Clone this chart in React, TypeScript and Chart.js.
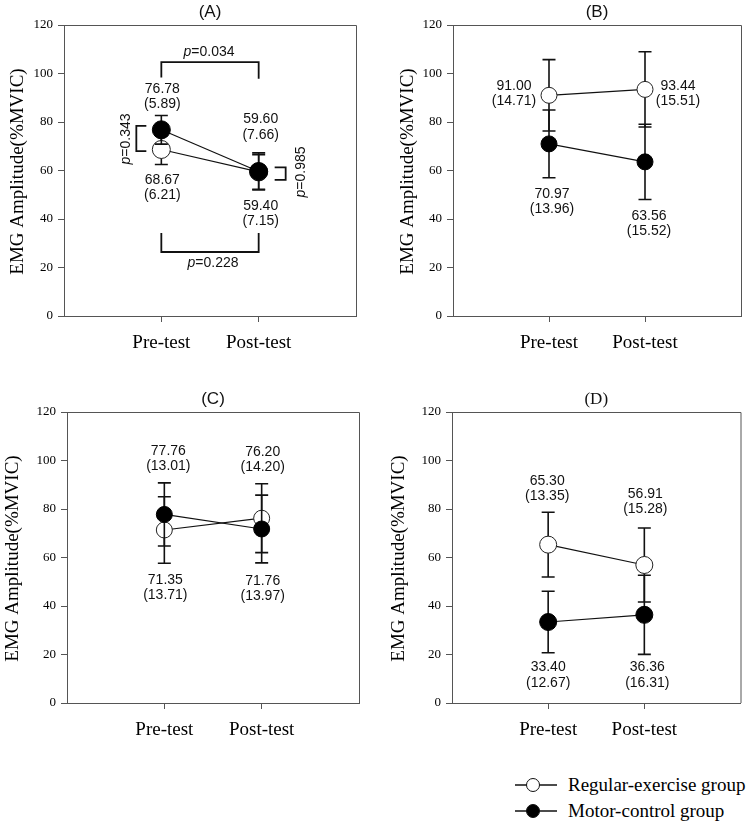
import React, { useEffect, useRef } from "react";
import { Chart, registerables } from "chart.js";

Chart.register(...registerables);

// ---------- data ----------
const categories = ["Pre-test", "Post-test"];
const yTickValues = [0, 20, 40, 60, 80, 100, 120];
const seriesNames = ["Regular-exercise group", "Motor-control group"];

const regularA = [68.67, 59.4];
const regularA_SD = [6.21, 7.15];
const motorA = [76.78, 59.6];
const motorA_SD = [5.89, 7.66];

const regularB = [91.0, 93.44];
const regularB_SD = [14.71, 15.51];
const motorB = [70.97, 63.56];
const motorB_SD = [13.96, 15.52];

const regularC = [71.35, 76.2];
const regularC_SD = [13.71, 14.2];
const motorC = [77.76, 71.76];
const motorC_SD = [13.01, 13.97];

const regularD = [65.3, 56.91];
const regularD_SD = [13.35, 15.28];
const motorD = [33.4, 36.36];
const motorD_SD = [12.67, 16.31];

const pValuesA = ["0.034", "0.228", "0.343", "0.985"]; // pre vs post (motor), pre vs post (regular), groups at pre, groups at post

// ---------- fonts ----------
const SERIF = "'Liberation Serif', 'Times New Roman', serif";
const SANS = "'Liberation Sans', Arial, sans-serif";

type LabelPos = { series: "r" | "m"; idx: number; dx: number; y: number };

type PanelCfg = {
  key: string;
  title: string;
  titleSerif: boolean;
  canvasX: number;
  canvasY: number;
  canvasW: number;
  canvasH: number;
  plotLeft: number;
  plotRight: number;
  plotTop: number;
  plotBottom: number;
  yTitleX: number;
  radius: number;
  regular: number[];
  regularSD: number[];
  motor: number[];
  motorSD: number[];
  labels: LabelPos[];
  pBrackets?: boolean;
};

const panels: PanelCfg[] = [
  {
    key: "A",
    title: "(A)",
    titleSerif: false,
    canvasX: 0,
    canvasY: 0,
    canvasW: 375,
    canvasH: 360,
    plotLeft: 64,
    plotRight: 356,
    plotTop: 25,
    plotBottom: 316,
    yTitleX: 18,
    radius: 9,
    regular: regularA,
    regularSD: regularA_SD,
    motor: motorA,
    motorSD: motorA_SD,
    labels: [
      { series: "m", idx: 0, dx: 1, y: 93.6 },
      { series: "r", idx: 0, dx: 1, y: 56.1 },
      { series: "m", idx: 1, dx: 2, y: 81.0 },
      { series: "r", idx: 1, dx: 2, y: 45.4 },
    ],
    pBrackets: true,
  },
  {
    key: "B",
    title: "(B)",
    titleSerif: false,
    canvasX: 375,
    canvasY: 0,
    canvasW: 375,
    canvasH: 360,
    plotLeft: 78,
    plotRight: 370,
    plotTop: 25,
    plotBottom: 316,
    yTitleX: 33,
    radius: 8,
    regular: regularB,
    regularSD: regularB_SD,
    motor: motorB,
    motorSD: motorB_SD,
    labels: [
      { series: "r", idx: 0, dx: -35, y: 94.8 },
      { series: "r", idx: 1, dx: 33, y: 94.8 },
      { series: "m", idx: 0, dx: 3, y: 50.3 },
      { series: "m", idx: 1, dx: 4, y: 41.2 },
    ],
  },
  {
    key: "C",
    title: "(C)",
    titleSerif: false,
    canvasX: 0,
    canvasY: 360,
    canvasW: 375,
    canvasH: 400,
    plotLeft: 67,
    plotRight: 359,
    plotTop: 52,
    plotBottom: 343,
    yTitleX: 13,
    radius: 8,
    regular: regularC,
    regularSD: regularC_SD,
    motor: motorC,
    motorSD: motorC_SD,
    labels: [
      { series: "m", idx: 0, dx: 4, y: 103.9 },
      { series: "r", idx: 1, dx: 1, y: 103.5 },
      { series: "r", idx: 0, dx: 1, y: 50.7 },
      { series: "m", idx: 1, dx: 1, y: 50.3 },
    ],
  },
  {
    key: "D",
    title: "(D)",
    titleSerif: true,
    canvasX: 375,
    canvasY: 360,
    canvasW: 375,
    canvasH: 400,
    plotLeft: 77,
    plotRight: 370,
    plotTop: 52,
    plotBottom: 343,
    yTitleX: 24,
    radius: 8.5,
    regular: regularD,
    regularSD: regularD_SD,
    motor: motorD,
    motorSD: motorD_SD,
    labels: [
      { series: "r", idx: 0, dx: -1, y: 91.5 },
      { series: "r", idx: 1, dx: 1, y: 86.2 },
      { series: "m", idx: 0, dx: 0, y: 14.6 },
      { series: "m", idx: 1, dx: 3, y: 14.6 },
    ],
  },
];

function drawPText(
  ctx: CanvasRenderingContext2D,
  x: number,
  y: number,
  value: string,
  rotate: boolean
) {
  ctx.save();
  ctx.translate(x, y);
  if (rotate) ctx.rotate(-Math.PI / 2);
  ctx.fillStyle = "#111";
  ctx.textBaseline = "middle";
  ctx.textAlign = "left";
  const italic = `italic 14px ${SANS}`;
  const normal = `14px ${SANS}`;
  ctx.font = italic;
  const wp = ctx.measureText("p").width;
  ctx.font = normal;
  const rest = "=" + value;
  const wr = ctx.measureText(rest).width;
  const start = -(wp + wr) / 2;
  ctx.font = italic;
  ctx.fillText("p", start, 0);
  ctx.font = normal;
  ctx.fillText(rest, start + wp, 0);
  ctx.restore();
}

function PanelChart({ cfg }: { cfg: PanelCfg }) {
  const ref = useRef<HTMLCanvasElement | null>(null);

  useEffect(() => {
    if (!ref.current) return;

    const errorBars = {
      id: "errorBars" + cfg.key,
      beforeDatasetDraw(chart: any, args: any) {
        const ds = chart.data.datasets[args.index];
        const sd: number[] = ds.sd;
        if (!sd) return;
        const { ctx } = chart;
        const xs = chart.scales.x;
        const ys = chart.scales.y;
        ctx.save();
        ctx.strokeStyle = "#111";
        ctx.lineWidth = 1.6;
        ds.data.forEach((p: any, i: number) => {
          const x = xs.getPixelForValue(p.x);
          const yTop = ys.getPixelForValue(p.y + sd[i]);
          const yBot = ys.getPixelForValue(p.y - sd[i]);
          ctx.beginPath();
          ctx.moveTo(x, yTop);
          ctx.lineTo(x, yBot);
          ctx.moveTo(x - 6.5, yTop);
          ctx.lineTo(x + 6.5, yTop);
          ctx.moveTo(x - 6.5, yBot);
          ctx.lineTo(x + 6.5, yBot);
          ctx.stroke();
        });
        ctx.restore();
      },
    };

    const decorations = {
      id: "decor" + cfg.key,
      afterDraw(chart: any) {
        const { ctx, chartArea } = chart;
        const xs = chart.scales.x;
        const ys = chart.scales.y;
        ctx.save();
        // box top & right
        ctx.strokeStyle = "#555";
        ctx.lineWidth = 1;
        ctx.beginPath();
        ctx.moveTo(chartArea.left, chartArea.top + 0.5);
        ctx.lineTo(chartArea.right + 0.5, chartArea.top + 0.5);
        ctx.lineTo(chartArea.right + 0.5, chartArea.bottom);
        ctx.stroke();

        // panel title
        ctx.fillStyle = "#111";
        ctx.textAlign = "center";
        ctx.textBaseline = "middle";
        ctx.font = `17px ${cfg.titleSerif ? SERIF : SANS}`;
        ctx.fillText(
          cfg.title,
          (chartArea.left + chartArea.right) / 2,
          chartArea.top - 12.5
        );

        // y-axis title
        ctx.save();
        ctx.translate(cfg.yTitleX, (chartArea.top + chartArea.bottom) / 2 + 1);
        ctx.rotate(-Math.PI / 2);
        ctx.font = `19px ${SERIF}`;
        ctx.fillStyle = "#000";
        ctx.fillText("EMG Amplitude(%MVIC)", 0, 0);
        ctx.restore();

        // value labels: mean (SD)
        ctx.font = `14px ${SANS}`;
        ctx.fillStyle = "#111";
        cfg.labels.forEach((l) => {
          const mean = l.series === "r" ? cfg.regular[l.idx] : cfg.motor[l.idx];
          const sd = l.series === "r" ? cfg.regularSD[l.idx] : cfg.motorSD[l.idx];
          const x = xs.getPixelForValue(l.idx + 1) + l.dx;
          const y = ys.getPixelForValue(l.y);
          ctx.fillText(mean.toFixed(2), x, y);
          ctx.fillText(`(${sd.toFixed(2)})`, x, y + 15.5);
        });

        // significance brackets (panel A)
        if (cfg.pBrackets) {
          const x1 = xs.getPixelForValue(1);
          const x2 = xs.getPixelForValue(2);
          ctx.strokeStyle = "#111";
          ctx.lineWidth = 1.8;
          // top bracket
          ctx.beginPath();
          ctx.moveTo(x1, ys.getPixelForValue(98.3));
          ctx.lineTo(x1, ys.getPixelForValue(104.7));
          ctx.lineTo(x2, ys.getPixelForValue(104.7));
          ctx.lineTo(x2, ys.getPixelForValue(97.8));
          ctx.stroke();
          drawPText(ctx, (x1 + x2) / 2 - 1, ys.getPixelForValue(108.9), pValuesA[0], false);
          // bottom bracket
          ctx.beginPath();
          ctx.moveTo(x1, ys.getPixelForValue(34.2));
          ctx.lineTo(x1, ys.getPixelForValue(26.4));
          ctx.lineTo(x2, ys.getPixelForValue(26.4));
          ctx.lineTo(x2, ys.getPixelForValue(34.2));
          ctx.stroke();
          drawPText(ctx, (x1 + x2) / 2 + 3, ys.getPixelForValue(21.9), pValuesA[1], false);
          // left bracket (pre)
          ctx.beginPath();
          ctx.moveTo(x1 - 15, ys.getPixelForValue(78.4));
          ctx.lineTo(x1 - 25, ys.getPixelForValue(78.4));
          ctx.lineTo(x1 - 25, ys.getPixelForValue(68.0));
          ctx.lineTo(x1 - 15, ys.getPixelForValue(68.0));
          ctx.stroke();
          drawPText(ctx, x1 - 35, ys.getPixelForValue(73.0), pValuesA[2], true);
          // right bracket (post)
          ctx.beginPath();
          ctx.moveTo(x2 + 16, ys.getPixelForValue(61.3));
          ctx.lineTo(x2 + 27, ys.getPixelForValue(61.3));
          ctx.lineTo(x2 + 27, ys.getPixelForValue(56.1));
          ctx.lineTo(x2 + 16, ys.getPixelForValue(56.1));
          ctx.stroke();
          drawPText(ctx, x2 + 42, ys.getPixelForValue(59.4), pValuesA[3], true);
        }
        ctx.restore();
      },
    };

    const toPoints = (arr: number[]) => arr.map((v, i) => ({ x: i + 1, y: v }));

    const chart = new Chart(ref.current, {
      type: "scatter",
      data: {
        datasets: [
          {
            label: seriesNames[1],
            data: toPoints(cfg.motor),
            sd: cfg.motorSD,
            showLine: true,
            borderColor: "#111",
            borderWidth: 1.2,
            backgroundColor: "#000",
            pointBackgroundColor: "#000",
            pointBorderColor: "#000",
            pointBorderWidth: 1,
            pointRadius: cfg.radius,
            pointHoverRadius: cfg.radius,
          } as any,
          {
            label: seriesNames[0],
            data: toPoints(cfg.regular),
            sd: cfg.regularSD,
            showLine: true,
            borderColor: "#111",
            borderWidth: 1.2,
            backgroundColor: "#fff",
            pointBackgroundColor: "#fff",
            pointBorderColor: "#222",
            pointBorderWidth: 1,
            pointRadius: cfg.radius,
            pointHoverRadius: cfg.radius,
          } as any,
        ],
      },
      options: {
        animation: false,
        responsive: false,
        maintainAspectRatio: false,
        events: [],
        layout: {
          padding: {
            left: 0,
            top: cfg.plotTop,
            right: cfg.canvasW - cfg.plotRight,
            bottom: 0,
          },
        },
        plugins: {
          legend: { display: false },
          tooltip: { enabled: false },
          title: { display: false },
        },
        scales: {
          x: {
            type: "linear",
            position: "bottom",
            min: 0,
            max: 3,
            afterBuildTicks: (s: any) => {
              s.ticks = categories.map((_, i) => ({ value: i + 1 }));
            },
            afterFit: (s: any) => {
              s.height = cfg.canvasH - cfg.plotBottom;
            },
            ticks: {
              autoSkip: false,
              maxRotation: 0,
              padding: 10,
              color: "#000",
              font: { family: SERIF, size: 19 },
              callback: (v: any) => categories[Math.round(Number(v)) - 1] ?? "",
            },
            grid: {
              display: true,
              drawOnChartArea: false,
              drawTicks: true,
              tickLength: 6,
              color: "#555",
            },
            border: { display: true, color: "#555", width: 1 },
          },
          y: {
            type: "linear",
            position: "left",
            min: 0,
            max: 120,
            afterBuildTicks: (s: any) => {
              s.ticks = yTickValues.map((v) => ({ value: v }));
            },
            afterFit: (s: any) => {
              s.width = cfg.plotLeft;
            },
            ticks: {
              padding: 5,
              color: "#000",
              font: { family: SERIF, size: 13 },
            },
            grid: {
              display: true,
              drawOnChartArea: false,
              drawTicks: true,
              tickLength: 6,
              color: "#555",
            },
            border: { display: true, color: "#555", width: 1 },
          },
        },
      } as any,
      plugins: [errorBars, decorations],
    });
    return () => chart.destroy();
  }, [cfg]);

  return (
    <canvas
      ref={ref}
      width={cfg.canvasW}
      height={cfg.canvasH}
      style={{
        position: "absolute",
        left: cfg.canvasX,
        top: cfg.canvasY,
        width: cfg.canvasW,
        height: cfg.canvasH,
      }}
    />
  );
}

function LegendRow({ name, filled, y }: { name: string; filled: boolean; y: number }) {
  return (
    <>
      <svg
        width={48}
        height={20}
        style={{ position: "absolute", left: 512, top: y - 10 }}
      >
        <line x1={3} y1={10} x2={45} y2={10} stroke="#111" strokeWidth={1.3} />
        <circle
          cx={21}
          cy={10}
          r={6.5}
          fill={filled ? "#000" : "#fff"}
          stroke="#111"
          strokeWidth={1}
        />
      </svg>
      <div
        style={{
          position: "absolute",
          left: 568,
          top: y - 11,
          height: 22,
          lineHeight: "22px",
          fontFamily: SERIF,
          fontSize: 19,
          color: "#000",
          whiteSpace: "nowrap",
        }}
      >
        {name}
      </div>
    </>
  );
}

export default function App() {
  return (
    <div
      style={{
        position: "absolute",
        left: 0,
        top: 0,
        width: 750,
        height: 823,
        background: "#fff",
        overflow: "hidden",
      }}
    >
      {panels.map((p) => (
        <PanelChart key={p.key} cfg={p} />
      ))}
      <LegendRow name={seriesNames[0]} filled={false} y={785} />
      <LegendRow name={seriesNames[1]} filled={true} y={811} />
    </div>
  );
}
